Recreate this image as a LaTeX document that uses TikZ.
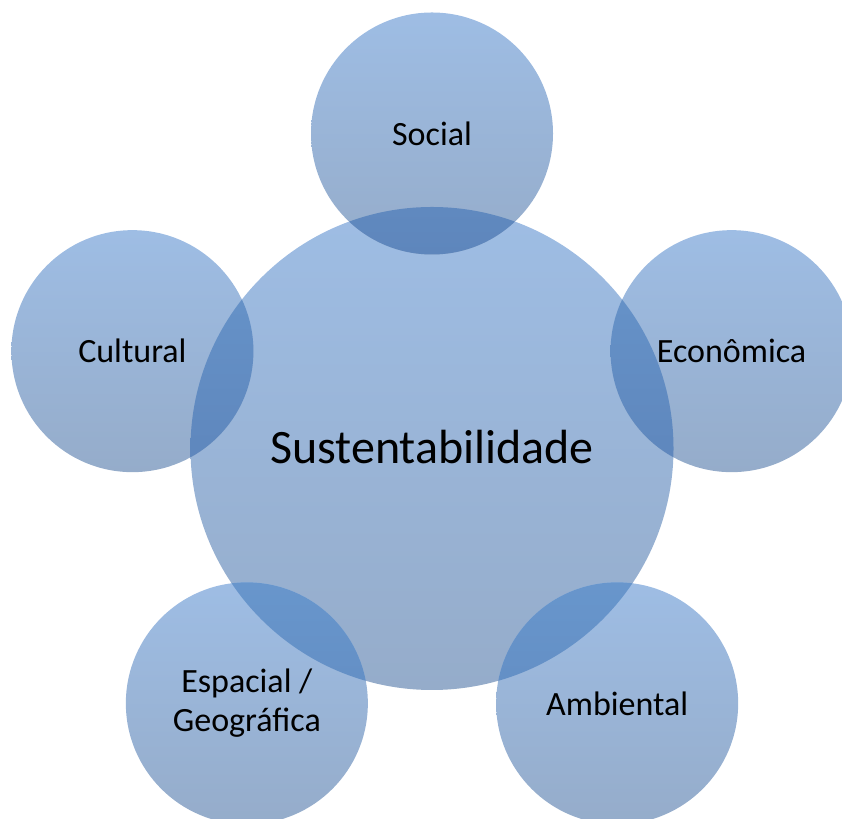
\documentclass[tikz,border=0pt]{standalone}
\usepackage{fontspec}
\setmainfont{Carlito}
\definecolor{azularriba}{RGB}{158,189,228}
\definecolor{azulabajo}{RGB}{149,172,202}
\definecolor{crucearriba}{RGB}{104,150,204}
\definecolor{cruceabajo}{RGB}{94,134,188}
\tikzset{
  circulo/.style={top color=azularriba,bottom color=azulabajo},
  cruce/.style={top color=crucearriba,bottom color=cruceabajo},
  texto/.style={font=\fontsize{34}{39}\selectfont,align=center,inner sep=0pt}
}
\begin{document}
\begin{tikzpicture}[x=1pt,y=1pt]
    \useasboundingbox (0,0) rectangle (842,818);
    \clip (0,0) rectangle (842,818);
    \coordinate (centro) at (432,369.5);

    % Dibuja el circulo central
    \shade[circulo] (centro) circle (241.5);

    % Dibuja los circulos de cada dimension y su cruce con el central
    \foreach \ang in {90,18,306,234,162} {
        \shade[circulo] ([shift={(\ang:315)}]centro) circle (121);
        \begin{scope}
            \clip (centro) circle (241.5);
            \shade[cruce] ([shift={(\ang:315)}]centro) circle (121);
        \end{scope}
    }

    % Escribe los textos
    \node[font=\fontsize{48}{58}\selectfont,inner sep=0pt] (sust) at ([yshift=1]centro) {Sustentabilidade};
    \foreach \ang/\nombre/\etiqueta in {90/social/Social, 18/economica/Econômica,
        306/ambiental/Ambiental, 234/espacial/{Espacial /\\Geográfica}, 162/cultural/Cultural} {
        \node[texto] (\nombre) at ([shift={(\ang:315)}]centro) {\etiqueta};
    }
\end{tikzpicture}
\end{document}
